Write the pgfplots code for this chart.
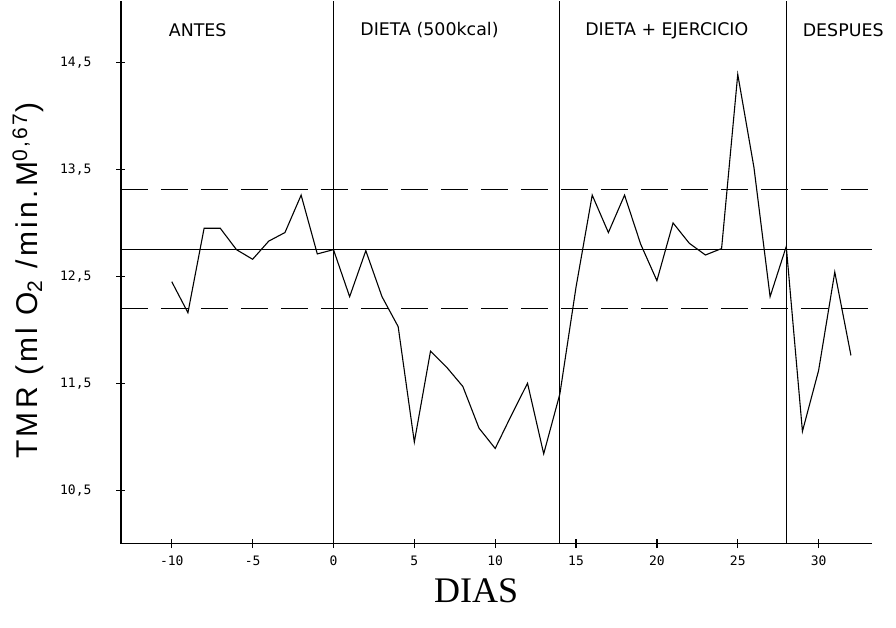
\documentclass[border=0pt]{standalone}
\usepackage{fontspec}
\setmainfont{Liberation Sans}
\newfontfamily\plotfont{DejaVu Sans Mono}
\newfontfamily\zonafont{DejaVu Sans}
\newfontfamily\ylabfont[LetterSpace=11]{Liberation Sans}
\newfontfamily\serifdias{Liberation Serif}
\usepackage{pgfplots}
\pgfplotsset{compat=1.18}

% TMR diario (ml O2/min.M^0,67)
\pgfplotstableread{
dia tmr
-10 12.45
-9 12.16
-8 12.95
-7 12.95
-6 12.75
-5 12.66
-4 12.83
-3 12.91
-2 13.26
-1 12.71
0 12.75
1 12.31
2 12.74
3 12.31
4 12.03
5 10.95
6 11.80
7 11.65
8 11.47
9 11.08
10 10.89
11 11.20
12 11.50
13 10.84
14 11.40
15 12.40
16 13.26
17 12.91
18 13.26
19 12.80
20 12.46
21 13.00
22 12.81
23 12.70
24 12.76
25 14.39
26 13.52
27 12.31
28 12.78
29 11.05
30 11.62
31 12.54
32 11.76
}\datos

\begin{document}
\begin{tikzpicture}
\begin{axis}[
    scale only axis,
    width=375.5pt, height=271.5pt,
    xmin=-13.14, xmax=33.3,
    ymin=10, ymax=15.08,
    axis lines*=left,
    axis line style={line width=0.6pt},
    tick align=center,
    major tick length=4.5pt,
    tick style={line width=0.6pt, black},
    xtick={-10,-5,0,5,10,15,20,25,30},
    xticklabels={-10,-5,0,5,10,15,20,25,30},
    ytick={10.5,11.5,12.5,13.5,14.5},
    yticklabels={{10,5},{11,5},{12,5},{13,5},{14,5}},
    ticklabel style={font=\plotfont\fontsize{6.5}{7}\selectfont},
    xticklabel style={yshift=-0.5pt},
    yticklabel style={xshift=-9pt},
    xlabel={DIAS},
    xlabel style={font=\serifdias\fontsize{18}{20}\selectfont,
        at={(axis description cs:0.473,-0.0866)}, anchor=center},
    ylabel={TMR (ml O\textsubscript{2} /min.M\textsuperscript{0,67})},
    ylabel style={font=\ylabfont\fontsize{15}{17}\selectfont,
        at={(axis description cs:-0.1238,0.484)}, anchor=center},
    clip=false,
]
% limites de la banda
\addplot[black, line width=0.5pt] coordinates {(-13.14,12.755) (33.3,12.755)};
\addplot[black, line width=0.6pt, dash pattern=on 13.5pt off 6.5pt] coordinates {(-13.14,13.31) (33.3,13.31)};
\addplot[black, line width=0.6pt, dash pattern=on 13.5pt off 6.5pt] coordinates {(-13.14,12.20) (33.3,12.20)};
% separacion de periodos
\addplot[black, line width=0.6pt] coordinates {(0,10) (0,15.08)};
\addplot[black, line width=0.6pt] coordinates {(14,10) (14,15.08)};
\addplot[black, line width=0.6pt] coordinates {(28,10) (28,15.08)};
% serie
\addplot[black, line width=0.55pt, mark=none] table[x=dia, y=tmr] {\datos};

\begin{scope}[every node/.style={font=\zonafont\fontsize{8.7}{9}\selectfont, anchor=west, inner sep=0pt}]
\node at (axis cs:-10.2,14.80) {ANTES};
\node at (axis cs:1.64,14.80) {DIETA (500kcal)};
\node at (axis cs:15.55,14.80) {DIETA + EJERCICIO};
\node at (axis cs:29.0,14.80) {DESPUES};
\end{scope}
\path (axis description cs:-0.1611,-0.1547) rectangle (axis description cs:1.032,1.0);
\end{axis}
\end{tikzpicture}
\end{document}
